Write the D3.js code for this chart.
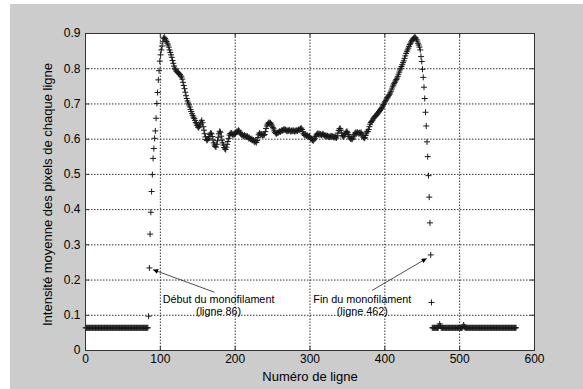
<!DOCTYPE html>
<html>
<head>
<meta charset="utf-8">
<script src="https://cdn.jsdelivr.net/npm/d3@7"></script>
<style>
  body { margin: 0; background: #fff; }
  svg { display: block; font-family: "Liberation Sans", Arial, sans-serif; }
  .tick text { font-size: 12px; fill: #000; }
</style>
</head>
<body>
<div id="chartDiv"></div>
<script>
// Data : mean pixel intensity of each image row, one value per row
const leftBaseStart = 1;
const leftBase = [
  0.063,0.063,0.063,0.063,0.063,0.063,0.063,0.063,0.063,0.063,
  0.063,0.063,0.063,0.063,0.063,0.063,0.063,0.063,0.063,0.063,
  0.063,0.063,0.063,0.063,0.063,0.063,0.063,0.063,0.063,0.063,
  0.063,0.063,0.063,0.063,0.063,0.063,0.063,0.063,0.063,0.063,
  0.063,0.063,0.063,0.063,0.063,0.063,0.063,0.063,0.063,0.063,
  0.063,0.063,0.063,0.063,0.063,0.063,0.063,0.063,0.063,0.063,
  0.063,0.063,0.063,0.063,0.063,0.063,0.063,0.063,0.063,0.063,
  0.063,0.063,0.063,0.063,0.063,0.063,0.063,0.063,0.063,0.063,
  0.063,0.063,0.063,0.063
];

const leftEdgeStart = 85;
const leftEdge = [
  0.096,0.233,0.329,0.391,0.450,0.498,0.544,0.572,0.601,0.622,
  0.658,0.700,0.731,0.767,0.793,0.820,0.838,0.852,0.863,0.875,
  0.885,0.888
];

const profileStart = 107;
const profile = [
  0.884,0.880,0.876,0.871,0.866,0.860,0.852,0.845,0.838,0.831,
  0.822,0.814,0.806,0.800,0.796,0.792,0.790,0.788,0.786,0.784,
  0.782,0.778,0.775,0.769,0.760,0.751,0.742,0.732,0.722,0.714,
  0.707,0.701,0.696,0.690,0.683,0.677,0.671,0.666,0.661,0.657,
  0.652,0.646,0.642,0.637,0.633,0.631,0.636,0.641,0.647,0.652,
  0.645,0.634,0.624,0.614,0.605,0.598,0.595,
  0.597,0.601,0.606,0.612,0.616,0.614,0.606,0.596,0.588,0.582,
  0.578,0.576,0.584,0.594,0.604,0.614,0.621,0.618,0.607,0.596,
  0.588,0.582,0.575,0.571,0.569,0.576,0.584,0.592,0.601,0.610,
  0.615,0.613,0.616,0.612,0.610,0.614,0.612,0.615,0.618,0.621,
  0.620,0.624,0.622,0.617,0.614,0.611,0.612,0.609,0.607,0.610,
  0.606,0.608,0.605,0.607,0.604,0.600,0.603,0.599,0.597,0.600,
  0.595,0.596,0.592,0.590,0.593,0.589,0.595,0.603,0.611,0.616,
  0.614,0.611,0.613,0.609,0.611,0.610,0.612,0.620,0.629,0.636,
  0.641,0.644,0.646,0.643,0.645,0.641,0.636,0.632,0.628,0.622,
  0.618,0.615,0.614,0.617,0.616,0.619,0.621,0.619,0.622,0.624,
  0.623,0.626,0.624,0.627,0.625,0.622,0.624,0.621,0.623,0.625,
  0.622,0.620,0.623,0.621,0.624,0.622,0.620,0.623,0.621,0.624,
  0.622,0.625,0.627,0.624,0.628,0.630,0.626,0.620,0.614,0.611,
  0.609,0.612,0.608,0.610,0.607,0.605,0.607,0.603,0.600,0.598,
  0.596,0.594,0.597,0.601,0.606,0.610,0.613,0.615,0.612,0.614,
  0.611,0.613,0.610,0.612,0.614,0.611,0.609,0.607,0.610,0.606,
  0.608,0.605,0.607,0.604,0.606,0.608,0.605,0.607,0.604,0.606,
  0.603,0.605,0.602,0.608,0.616,0.623,0.628,0.629,0.624,0.616,
  0.609,0.605,0.607,0.611,0.615,0.619,0.621,0.617,0.612,0.606,
  0.602,0.599,0.601,0.598,0.602,0.607,0.612,0.616,0.618,0.615,
  0.618,0.616,0.614,0.617,0.615,0.618,0.613,0.608,0.604,0.601,
  0.603,0.609,0.616,0.621,0.620,0.626,0.634,0.641,0.646,0.649,
  0.652,0.656,0.659,0.662,0.664,0.666,0.668,0.671,0.674,0.677,
  0.680,0.683,0.686,0.689,0.693,0.697,0.701,
  0.705,0.709,0.713,0.716,0.719,0.723,0.726,0.730,0.735,0.741,
  0.747,0.752,0.756,0.760,0.764,0.768,0.772,0.777,0.783,0.789,
  0.795,0.800,0.805,0.810,0.816,0.821,0.828,0.835,0.842,0.847,
  0.852,0.857,0.862,0.867,0.871,0.875,0.879,0.882,0.885,0.887
];

const rightEdgeStart = 441;
const rightEdge = [
  0.888,0.886,0.882,0.877,0.871,0.866,0.860,0.852,0.833,0.819,
  0.797,0.774,0.746,0.714,0.675,0.636,0.591,0.549,0.495,0.434,
  0.361,0.270,0.135
];

const rightBaseStart = 464;
const rightBase = [
  0.063,0.063,0.063,0.063,0.063,0.063,0.063,0.063,0.063,0.068,
  0.074,0.068,0.063,0.063,0.063,0.063,0.063,0.063,0.063,0.063,
  0.063,0.063,0.063,0.063,0.063,0.063,0.063,0.063,0.063,0.063,
  0.063,0.063,0.063,0.063,0.063,0.063,0.063,0.063,0.063,0.063,
  0.063,0.066,0.071,0.066,0.063,0.063,0.063,0.063,0.063,0.063,
  0.063,0.063,0.063,0.063,0.063,0.063,0.063,0.063,0.063,0.063,
  0.063,0.063,0.063,0.063,0.063,0.063,0.063,0.063,0.063,0.063,
  0.063,0.063,0.063,0.063,0.063,0.063,0.063,0.063,0.063,0.063,
  0.063,0.063,0.063,0.063,0.063,0.063,0.063,0.063,0.063,0.063,
  0.063,0.063,0.063,0.063,0.063,0.063,0.063,0.063,0.063,0.063,
  0.063,0.063,0.063,0.063,0.063,0.063,0.063,0.063,0.063,0.063,
  0.063,0.063,0.063
];

const xTicks = [0, 100, 200, 300, 400, 500, 600];
const yTicks = [0, 0.1, 0.2, 0.3, 0.4, 0.5, 0.6, 0.7, 0.8, 0.9];

// annotations, in data units (row, intensity)
const notes = [
  { lines: ['Début du monofilament', '(ligne 86)'], tx: 178.5, ty: 0.145,
    fromX: 173, fromY: 0.164, toX: 91, toY: 0.228 },
  { lines: ['Fin du monofilament', '(ligne 462)'], tx: 370.5, ty: 0.145,
    fromX: 383.5, fromY: 0.169, toX: 456.5, toY: 0.260 }
];

// Build Variables
const vars = {
  xLabel: 'Numéro de ligne',
  yLabel: 'Intensité moyenne des pixels de chaque ligne',
  width: 583, height: 389,
  margin: { left: 85, right: 49, top: 33, bottom: 39 }
};
const w = vars.width - vars.margin.left - vars.margin.right;
const h = vars.height - vars.margin.top - vars.margin.bottom;

// flatten segments into {row, v}
const points = [];
[[leftBaseStart, leftBase], [leftEdgeStart, leftEdge], [profileStart, profile],
 [rightEdgeStart, rightEdge], [rightBaseStart, rightBase]].forEach(([start, arr]) => {
  arr.forEach((v, i) => points.push({ row: start + i, v: v }));
});

const svg = d3.select('#chartDiv').append('svg')
  .attr('width', vars.width)
  .attr('height', vars.height);

// figure background
svg.append('rect')
  .attr('x', 10).attr('y', 4)
  .attr('width', vars.width - 10).attr('height', vars.height - 4)
  .attr('fill', '#cccccc');

const g = svg.append('g')
  .attr('transform', `translate(${vars.margin.left},${vars.margin.top})`);

g.append('rect')
  .attr('x', 0.5).attr('y', 0.5)
  .attr('width', w).attr('height', h)
  .attr('fill', '#fff');

const xScale = d3.scaleLinear().domain([0, 600]).range([0, w]);
const yScale = d3.scaleLinear().domain([0, 0.9]).range([h, 0]);

// dotted grid
const gridStyle = sel => {
  sel.select('.domain').remove();
  sel.selectAll('.tick text').remove();
  sel.selectAll('.tick line')
    .attr('stroke', '#333')
    .attr('stroke-width', 1)
    .attr('stroke-dasharray', '1.5,1.5');
};
g.append('g')
  .attr('transform', `translate(0,${h})`)
  .call(d3.axisBottom(xScale).tickValues(xTicks.slice(1, -1)).tickSize(-h))
  .call(gridStyle);
g.append('g')
  .call(d3.axisLeft(yScale).tickValues(yTicks.slice(1, -1)).tickSize(-w))
  .call(gridStyle);

// markers '+'
g.append('g').selectAll('path')
  .data(points)
  .enter().append('path')
  .attr('transform', d => `translate(${xScale(d.row)},${yScale(d.v)})`)
  .attr('d', 'M-3,0H3M0,-3V3')
  .attr('stroke', '#1a1a1a')
  .attr('stroke-width', 1)
  .attr('fill', 'none');

// axes with inward ticks
const axisStyle = sel => {
  sel.select('.domain').remove();
  sel.selectAll('.tick line').attr('stroke', '#333');
};
g.append('g').attr('class', 'xAxisClass')
  .attr('transform', `translate(0,${h})`)
  .call(d3.axisBottom(xScale).tickValues(xTicks).tickSizeInner(-4).tickSizeOuter(0).tickPadding(4.5))
  .call(axisStyle);
g.append('g')
  .call(d3.axisTop(xScale).tickValues(xTicks).tickSizeInner(-4).tickSizeOuter(0).tickFormat(''))
  .call(axisStyle);
g.append('g').attr('class', 'yAxisClass')
  .call(d3.axisLeft(yScale).tickValues(yTicks).tickSizeInner(-4).tickSizeOuter(0).tickPadding(4.5).tickFormat(d3.format('~g')))
  .call(axisStyle);
g.append('g')
  .attr('transform', `translate(${w},0)`)
  .call(d3.axisRight(yScale).tickValues(yTicks).tickSizeInner(-4).tickSizeOuter(0).tickFormat(''))
  .call(axisStyle);

// box
g.append('rect')
  .attr('x', 0.5).attr('y', 0.5)
  .attr('width', w).attr('height', h)
  .attr('fill', 'none')
  .attr('stroke', '#333');

// annotations
svg.append('defs').append('marker')
  .attr('id', 'arrowHead')
  .attr('markerUnits', 'userSpaceOnUse')
  .attr('viewBox', '0 0 10 10')
  .attr('refX', 10).attr('refY', 5)
  .attr('markerWidth', 7).attr('markerHeight', 5)
  .attr('orient', 'auto')
  .append('path').attr('d', 'M0,0L10,5L0,10z').attr('fill', '#000');

const noteG = g.append('g').selectAll('g').data(notes).enter().append('g');
noteG.append('line')
  .attr('x1', d => xScale(d.fromX)).attr('y1', d => yScale(d.fromY))
  .attr('x2', d => xScale(d.toX)).attr('y2', d => yScale(d.toY))
  .attr('stroke', '#222').attr('stroke-width', 0.8)
  .attr('marker-end', 'url(#arrowHead)');
noteG.each(function(d) {
  const t = d3.select(this).append('text')
    .attr('text-anchor', 'middle')
    .attr('font-size', '10.8px')
    .attr('fill', '#000');
  d.lines.forEach((line, i) => {
    t.append('tspan')
      .attr('x', xScale(d.tx))
      .attr('y', yScale(d.ty) + i * 12.4)
      .attr('dy', '0.35em')
      .text(line);
  });
});

// axis labels
g.append('text')
  .attr('x', w / 2 + 0.5)
  .attr('y', h + 26)
  .attr('dy', '0.35em')
  .attr('text-anchor', 'middle')
  .attr('font-size', '13px')
  .text(vars.xLabel);

g.append('text')
  .attr('transform', `translate(${-38},${h / 2 + 3}) rotate(-90)`)
  .attr('dy', '0.35em')
  .attr('text-anchor', 'middle')
  .attr('font-size', '13px')
  .text(vars.yLabel);
</script>
</body>
</html>
